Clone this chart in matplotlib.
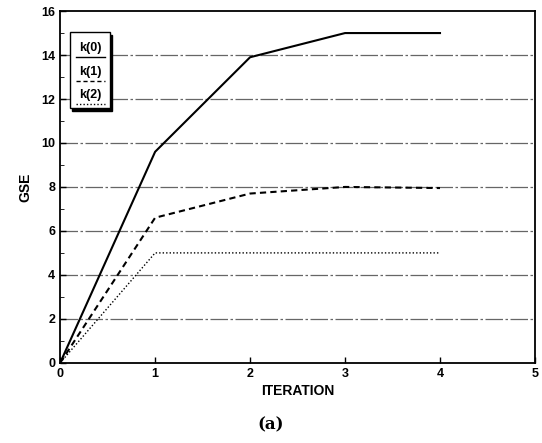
import matplotlib
matplotlib.use('Agg')
import matplotlib.pyplot as plt
from matplotlib.patches import Rectangle
from matplotlib.lines import Line2D

# GSE against iteration for three k values
iterations = [0, 1, 2, 3, 4]
k0 = [0, 9.6, 13.9, 15.0, 15.0]
k1 = [0, 6.6, 7.7, 8.0, 7.95]
k2 = [0, 5.0, 5.0, 5.0, 5.0]
labels = ['k(0)', 'k(1)', 'k(2)']

plt.rcParams['font.family'] = ['Liberation Sans', 'DejaVu Sans']

fig = plt.figure(figsize=(5.42, 4.43), dpi=100)
ax = fig.add_axes([0.111, 0.181, 0.876, 0.794])

styles = [dict(ls='-', lw=1.5), dict(ls=(0, (3, 2)), lw=1.5), dict(ls=(0, (1, 1.5)), lw=1.0)]
for ys, st in zip([k0, k1, k2], styles):
    ax.plot(iterations, ys, color='black', **st)

ax.set_xlim(0, 5)
ax.set_ylim(0, 16)
ax.set_xticks(range(0, 6))
ax.set_yticks(range(0, 17, 2))
ax.set_yticks(range(1, 16, 2), minor=True)
ax.tick_params(direction='in', labelsize=9, width=1, length=4)
ax.tick_params(which='minor', direction='in', length=3)
for lab in ax.get_xticklabels() + ax.get_yticklabels():
    lab.set_fontweight('bold')
for y in range(2, 16, 2):
    ax.axhline(y, color='#666666', lw=0.9, ls=(0, (14, 2, 2, 2)), zorder=0)
for s in ax.spines.values():
    s.set_linewidth(1.3)

ax.set_xlabel('ITERATION', fontsize=10, fontweight='bold', labelpad=3)
ax.set_ylabel('GSE', fontsize=10, fontweight='bold', labelpad=6)
fig.text(0.5, 0.04, '(a)', ha='center', va='center', fontsize=12,
         family='DejaVu Serif', fontweight='bold')

# boxed legend with shadow, labels above short line samples
x0, y0, w, h = 0.021, 0.725, 0.085, 0.215
ax.add_patch(Rectangle((x0 + 0.004, y0 - 0.008), w, h, transform=ax.transAxes,
                       facecolor='black', edgecolor='black', zorder=5))
ax.add_patch(Rectangle((x0, y0), w, h, transform=ax.transAxes,
                       facecolor='white', edgecolor='black', lw=1.0, zorder=6))
for i, (lab, st) in enumerate(zip(labels, styles)):
    ty = y0 + h - 0.045 - i * 0.067
    ax.text(x0 + w / 2, ty, lab, transform=ax.transAxes, ha='center', va='center',
            fontsize=9, fontweight='bold', zorder=7)
    ax.add_line(Line2D([x0 + 0.012, x0 + w - 0.012], [ty - 0.026, ty - 0.026],
                       transform=ax.transAxes, color='black', zorder=7,
                       ls=st['ls'], lw=1.0))

fig.savefig('out.png', dpi=100)
